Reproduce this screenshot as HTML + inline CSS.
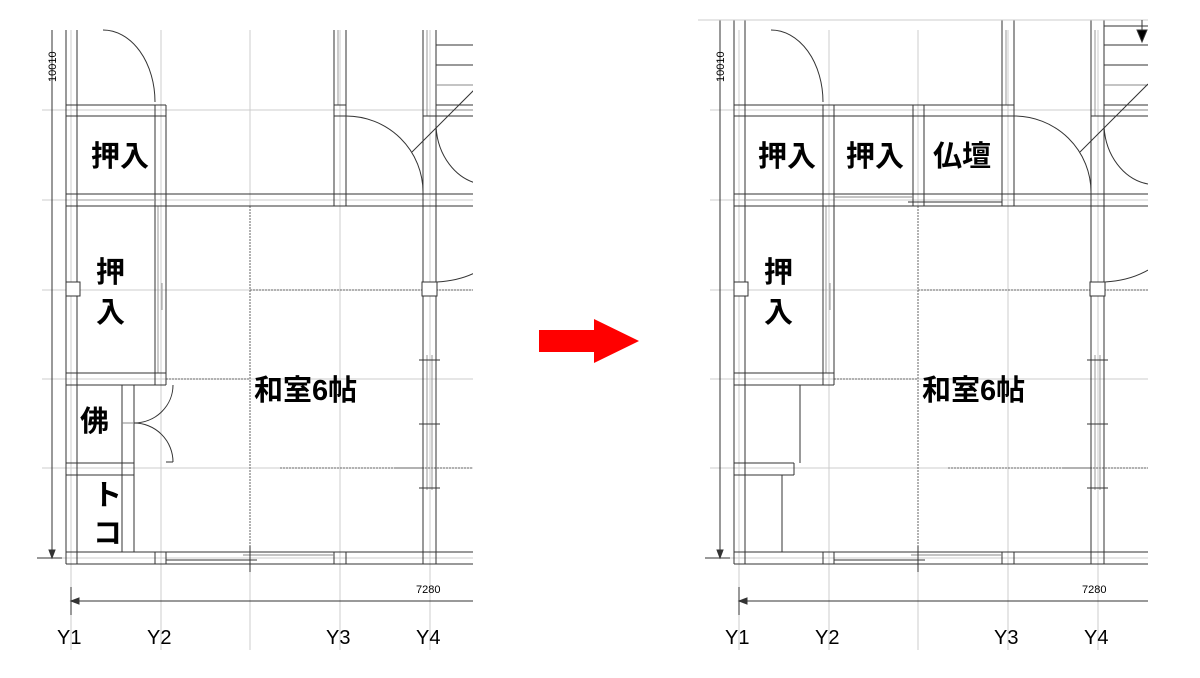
<!DOCTYPE html>
<html><head><meta charset="utf-8"><style>
html,body{margin:0;padding:0;background:#fff;width:1200px;height:678px;overflow:hidden}
svg{display:block}
text{font-family:"Liberation Sans","Noto Sans CJK JP",sans-serif}
.j{font-family:"Liberation Sans","Noto Sans CJK JP",sans-serif;font-weight:bold;font-size:29px;fill:#000}
.y{font-size:20px;fill:#000}
</style></head><body>
<svg width="1200" height="678" viewBox="0 0 1200 678" xmlns="http://www.w3.org/2000/svg">
<defs>
<clipPath id="cl"><rect x="20" y="0" width="453" height="678"/></clipPath>
<clipPath id="cr"><rect x="20" y="0" width="460" height="678"/></clipPath>
<g id="base" fill="none">
  <g stroke="#ccc" stroke-width="1">
    <line x1="71" y1="30" x2="71" y2="650"/>
    <line x1="161" y1="30" x2="161" y2="650"/>
    <line x1="340" y1="30" x2="340" y2="650"/>
    <line x1="430" y1="30" x2="430" y2="650"/>
    <line x1="250" y1="30" x2="250" y2="206"/>
    <line x1="42" y1="110" x2="480" y2="110"/>
    <line x1="42" y1="200" x2="480" y2="200"/>
    <line x1="42" y1="290" x2="480" y2="290"/>
    <line x1="42" y1="379" x2="480" y2="379"/>
    <line x1="42" y1="468" x2="480" y2="468"/>
    <line x1="42" y1="558" x2="480" y2="558"/>
    <line x1="250" y1="564" x2="250" y2="650"/>
  </g>
  <g stroke="#666" stroke-width="1" stroke-dasharray="2,1">
    <line x1="250" y1="206" x2="250" y2="570"/>
    <line x1="166" y1="379" x2="250" y2="379"/>
    <line x1="250" y1="290" x2="424" y2="290"/>
    <line x1="436" y1="290" x2="480" y2="290"/>
    <line x1="280" y1="468" x2="424" y2="468"/>
    <line x1="395" y1="468" x2="480" y2="468"/>
  </g>
  <g stroke="#333" stroke-width="1">
    <line x1="66" y1="30" x2="66" y2="564"/>
    <line x1="77" y1="30" x2="77" y2="564"/>
    <line x1="155" y1="105" x2="155" y2="385"/>
    <line x1="166" y1="105" x2="166" y2="385"/>
    <line x1="155" y1="552" x2="155" y2="564"/>
    <line x1="166" y1="552" x2="166" y2="564"/>
    <line x1="158" y1="206" x2="158" y2="373" stroke="#999"/>
    <line x1="162" y1="283" x2="162" y2="310" stroke="#999"/>
    <line x1="334" y1="30" x2="334" y2="206"/>
    <line x1="346" y1="30" x2="346" y2="206"/>
    <line x1="338" y1="30" x2="338" y2="105" stroke="#999"/>
    <line x1="334" y1="552" x2="334" y2="564"/>
    <line x1="346" y1="552" x2="346" y2="564"/>
    <line x1="423" y1="30" x2="423" y2="564"/>
    <line x1="436" y1="30" x2="436" y2="564"/>
    <line x1="427" y1="30" x2="427" y2="116" stroke="#999"/>
    <line x1="427" y1="355" x2="427" y2="490" stroke="#999"/>
    <line x1="432" y1="355" x2="432" y2="490" stroke="#999"/>
    <line x1="419" y1="360" x2="440" y2="360"/>
    <line x1="419" y1="424" x2="440" y2="424"/>
    <line x1="419" y1="488" x2="440" y2="488"/>
    <line x1="436" y1="45" x2="480" y2="45"/>
    <line x1="436" y1="65" x2="480" y2="65"/>
    <line x1="436" y1="85" x2="480" y2="85" stroke="#888"/>
    <line x1="436" y1="105" x2="480" y2="105"/>
    <line x1="436" y1="110" x2="480" y2="110" stroke="#888"/>
    <line x1="423" y1="116" x2="480" y2="116"/>
    <line x1="412" y1="152" x2="480" y2="84"/>
    <path d="M436,126 A52,62 0 0 0 480,184"/>
    <line x1="66" y1="105" x2="166" y2="105"/>
    <line x1="66" y1="116" x2="166" y2="116"/>
    <line x1="334" y1="105" x2="346" y2="105"/>
    <line x1="334" y1="116" x2="346" y2="116"/>
    <path d="M103,30 A52,72 0 0 1 155,102"/>
    <path d="M346,116 A77,76 0 0 1 423,192"/>
    <line x1="66" y1="194" x2="480" y2="194"/>
    <line x1="66" y1="206" x2="480" y2="206"/>
    <line x1="77" y1="200" x2="155" y2="200" stroke="#999"/>
    <rect x="66" y="282" width="14" height="14" fill="#fff"/>
    <rect x="422" y="282" width="15" height="14" fill="#fff"/>
    <path d="M437,282 A70,40 0 0 0 480,270"/>
    <line x1="66" y1="552" x2="480" y2="552"/>
    <line x1="66" y1="564" x2="480" y2="564"/>
    <line x1="166" y1="560" x2="257" y2="560"/>
    <line x1="243" y1="555" x2="334" y2="555" stroke="#888"/>
    <line x1="250" y1="546" x2="250" y2="572"/>
    <line x1="66" y1="373" x2="166" y2="373"/>
    <line x1="66" y1="385" x2="166" y2="385"/>
    <line x1="52" y1="30" x2="52" y2="558"/>
    <path d="M49,550 L52,558 L55,550 Z" fill="#333"/>
    <line x1="37" y1="558" x2="62" y2="558"/>
    <line x1="71" y1="601" x2="480" y2="601"/>
    <path d="M79,598 L71,601 L79,604 Z" fill="#333"/>
    <line x1="71" y1="587" x2="71" y2="615"/>
  </g>
</g>
</defs>

<g clip-path="url(#cl)">
  <use href="#base"/>
  <g stroke="#333" fill="none">
    <line x1="122" y1="385" x2="122" y2="552"/>
    <line x1="134" y1="385" x2="134" y2="552"/>
    <line x1="66" y1="463" x2="134" y2="463"/>
    <line x1="66" y1="475" x2="134" y2="475"/>
    <line x1="122" y1="423" x2="134" y2="423" stroke="#888"/>
    <path d="M134,423 A39,38 0 0 0 173,385"/>
    <path d="M134,423 A39,39 0 0 1 173,462"/>
    <line x1="166" y1="462" x2="173" y2="462"/>
  </g>
</g>
<text x="56" y="82" font-size="11" transform="rotate(-90 56 82)" fill="#000">10010</text>
<text x="416" y="593" font-size="11" fill="#000">7280</text>
<text class="j" x="91" y="166">押入</text>
<text class="j" x="96" y="282">押</text>
<text class="j" x="96" y="322">入</text>
<text class="j" x="80" y="431">佛</text>
<text class="j" x="93" y="505">ト</text>
<text class="j" x="93" y="543">コ</text>
<text class="j" x="254" y="400">和室6帖</text>
<text class="y" x="57" y="644">Y1</text>
<text class="y" x="147" y="644">Y2</text>
<text class="y" x="326" y="644">Y3</text>
<text class="y" x="416" y="644">Y4</text>

<path d="M539,330 L594,330 L594,319 L639,341 L594,363 L594,352 L539,352 Z" fill="#f00"/>

<g transform="translate(668,0)">
<g clip-path="url(#cr)">
  <use href="#base"/>
  <g stroke="#333" fill="none">
    <line x1="66" y1="20" x2="66" y2="30"/><line x1="77" y1="20" x2="77" y2="30"/>
    <line x1="334" y1="20" x2="334" y2="30"/><line x1="346" y1="20" x2="346" y2="30"/>
    <line x1="423" y1="20" x2="423" y2="30"/><line x1="436" y1="20" x2="436" y2="30"/>
    <line x1="52" y1="20" x2="52" y2="30"/>
    <line x1="30" y1="20" x2="480" y2="20" stroke="#ccc"/>
    <line x1="436" y1="26" x2="480" y2="26"/>
    <line x1="474" y1="20" x2="474" y2="34"/>
    <path d="M469,30 L479,30 L474,42 Z" fill="#000"/>
    <line x1="166" y1="105" x2="334" y2="105"/>
    <line x1="166" y1="116" x2="334" y2="116"/>
    <line x1="245" y1="105" x2="245" y2="206"/>
    <line x1="256" y1="105" x2="256" y2="206"/>
    <line x1="166" y1="197" x2="245" y2="197" stroke="#888"/>
    <line x1="240" y1="202" x2="270" y2="202"/>
    <line x1="256" y1="202" x2="334" y2="202"/>
    <line x1="132" y1="385" x2="132" y2="463"/>
    <line x1="66" y1="463" x2="126" y2="463"/>
    <line x1="66" y1="475" x2="126" y2="475"/>
    <line x1="126" y1="463" x2="126" y2="475"/>
    <line x1="114" y1="475" x2="114" y2="552"/>
  </g>
</g>
</g>
<text x="724" y="82" font-size="11" transform="rotate(-90 724 82)" fill="#000">10010</text>
<text x="1082" y="593" font-size="11" fill="#000">7280</text>
<text class="j" x="758" y="166">押入</text>
<text class="j" x="846" y="166">押入</text>
<text class="j" x="933" y="166">仏壇</text>
<text class="j" x="764" y="282">押</text>
<text class="j" x="764" y="322">入</text>
<text class="j" x="922" y="400">和室6帖</text>
<text class="y" x="725" y="644">Y1</text>
<text class="y" x="815" y="644">Y2</text>
<text class="y" x="994" y="644">Y3</text>
<text class="y" x="1084" y="644">Y4</text>
</svg>
</body></html>
